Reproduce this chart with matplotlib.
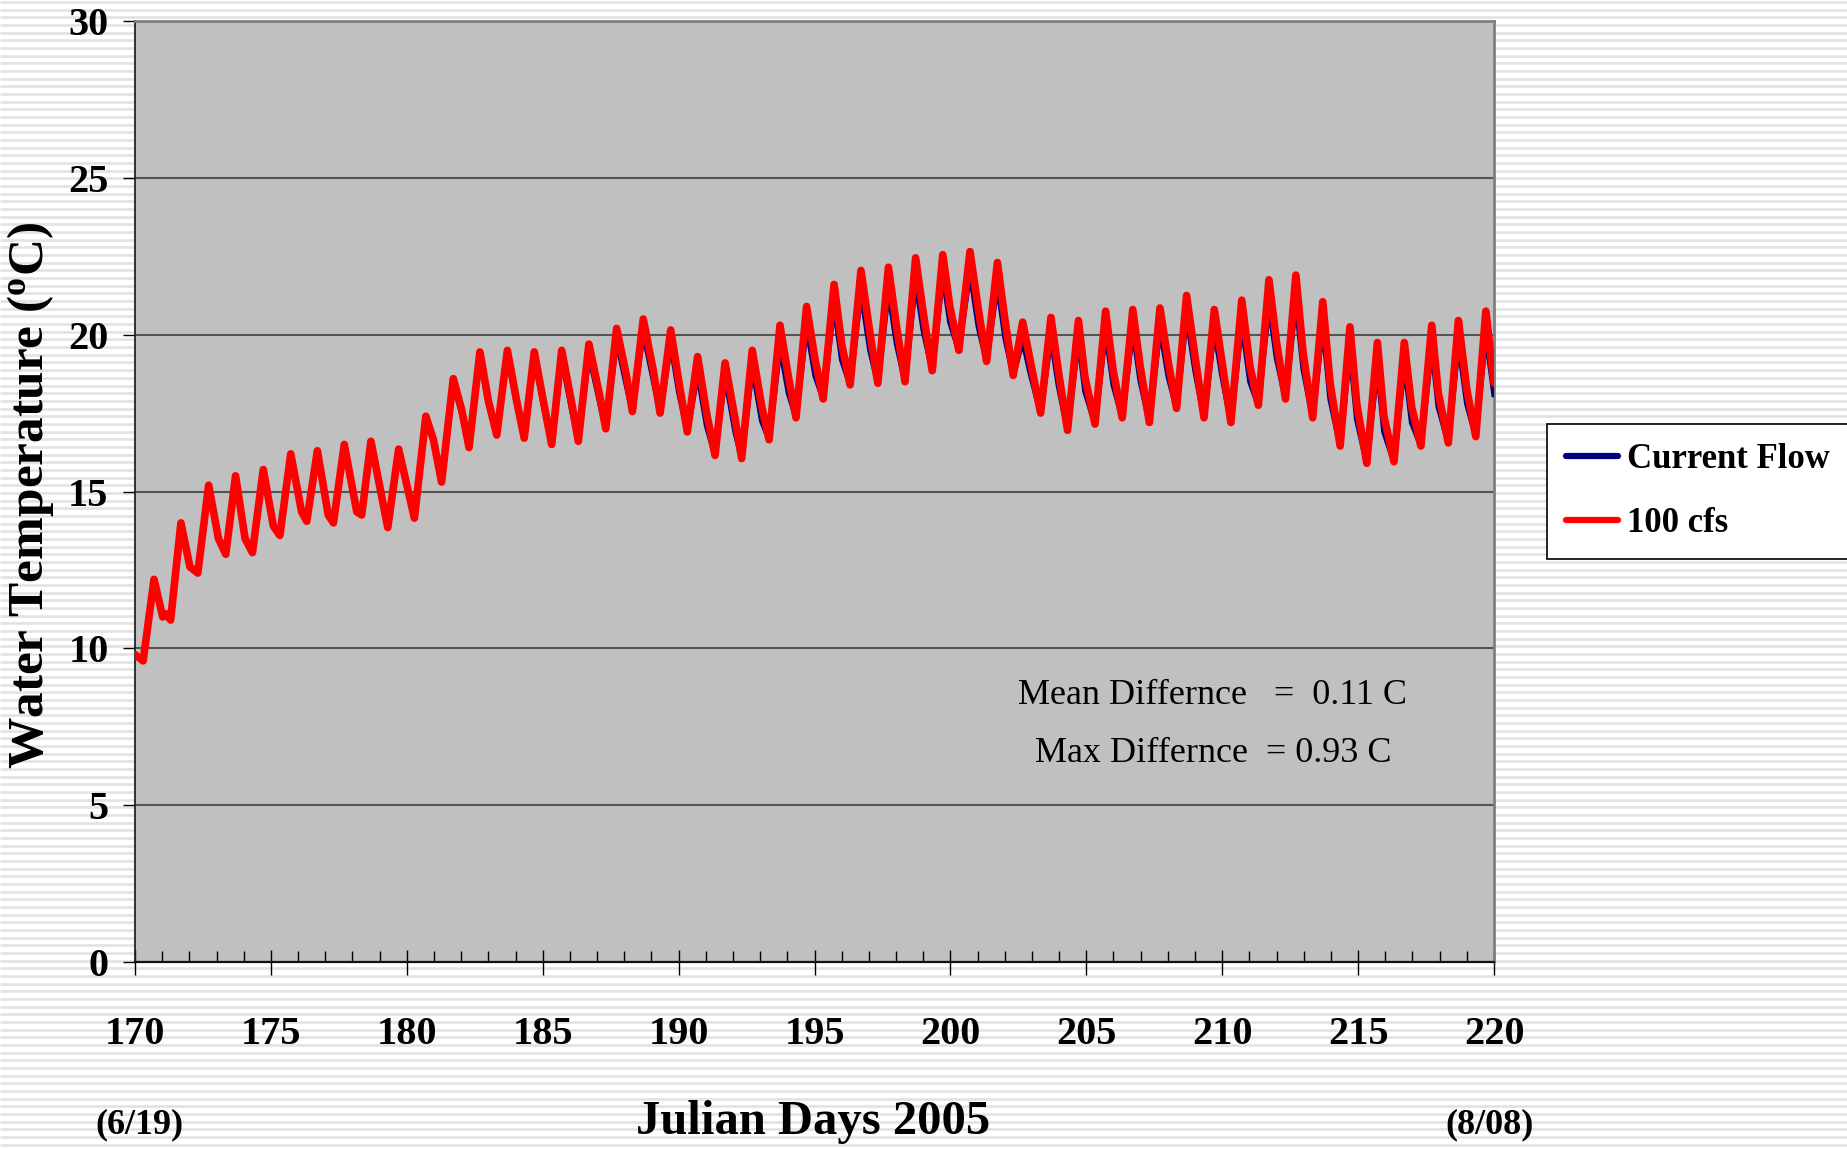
import numpy as np
import matplotlib
matplotlib.use("Agg")
import matplotlib.pyplot as plt
from matplotlib.lines import Line2D
from matplotlib.ticker import MultipleLocator

plt.rcParams["font.family"] = ["Liberation Serif", "DejaVu Serif"]
plt.rcParams["mathtext.fontset"] = "custom"
plt.rcParams["mathtext.rm"] = "Liberation Serif"
plt.rcParams["mathtext.bf"] = "Liberation Serif:bold"

# julian day of each turning point (shared by both series)
days = [170.00, 170.30, 170.70, 171.02, 171.14, 171.31, 171.69, 172.02, 172.31, 172.71,
        173.07, 173.34, 173.70, 174.05, 174.32, 174.72, 175.09, 175.33, 175.73, 176.13,
        176.32, 176.71, 177.11, 177.30, 177.70, 178.16, 178.34, 178.68, 179.30, 179.70,
        180.28, 180.70, 180.98, 181.28, 181.71, 182.02, 182.29, 182.69, 183.00, 183.31,
        183.70, 184.04, 184.32, 184.69, 185.02, 185.33, 185.70, 186.07, 186.31, 186.70,
        187.11, 187.32, 187.72, 188.09, 188.30, 188.70, 189.07, 189.32, 189.71, 190.00,
        190.32, 190.70, 191.03, 191.34, 191.71, 192.08, 192.32, 192.71, 193.06, 193.33,
        193.73, 194.04, 194.32, 194.71, 195.02, 195.32, 195.72, 196.00, 196.31, 196.71,
        197.04, 197.33, 197.72, 198.02, 198.33, 198.72, 199.00, 199.33, 199.72, 199.98,
        200.31, 200.72, 201.03, 201.33, 201.73, 202.01, 202.31, 202.66, 202.93, 203.32,
        203.70, 203.97, 204.31, 204.71, 204.95, 205.32, 205.71, 205.99, 206.32, 206.71,
        206.98, 207.32, 207.71, 208.02, 208.32, 208.69, 209.00, 209.33, 209.71, 209.98,
        210.32, 210.72, 211.02, 211.33, 211.72, 212.00, 212.33, 212.71, 212.98, 213.33,
        213.70, 213.97, 214.34, 214.70, 214.95, 215.32, 215.71, 215.95, 216.32, 216.70,
        216.97, 217.31, 217.71, 217.95, 218.32, 218.69, 219.00, 219.33, 219.70, 220.00]

# 100 cfs scenario
temp_100cfs = [9.8, 9.6, 12.2, 11.0, 11.1, 10.9, 14.0, 12.6, 12.4, 15.2,
               13.5, 13.0, 15.5, 13.5, 13.05, 15.7, 13.9, 13.6, 16.2, 14.35,
               14.05, 16.3, 14.25, 14.0, 16.5, 14.35, 14.25, 16.6, 13.85, 16.35,
               14.15, 17.4, 16.65, 15.3, 18.6, 17.6, 16.4, 19.45, 17.9, 16.8,
               19.5, 17.9, 16.7, 19.45, 17.9, 16.5, 19.5, 17.8, 16.6, 19.7,
               18.0, 17.0, 20.2, 18.65, 17.55, 20.5, 18.85, 17.5, 20.15, 18.55,
               16.9, 19.3, 17.5, 16.15, 19.1, 17.3, 16.05, 19.5, 17.7, 16.65,
               20.3, 18.65, 17.35, 20.9, 19.2, 17.95, 21.6, 19.7, 18.4, 22.05,
               20.05, 18.45, 22.15, 20.25, 18.5, 22.45, 20.7, 18.85, 22.55, 20.9,
               19.5, 22.65, 20.8, 19.15, 22.3, 20.45, 18.7, 20.4, 19.2, 17.5,
               20.55, 18.85, 16.95, 20.45, 18.65, 17.15, 20.75, 18.85, 17.35, 20.8,
               19.0, 17.2, 20.85, 19.1, 17.65, 21.25, 19.3, 17.35, 20.8, 19.2,
               17.2, 21.1, 19.0, 17.75, 21.75, 19.75, 17.95, 21.9, 19.4, 17.35,
               21.05, 18.45, 16.45, 20.25, 17.8, 15.9, 19.75, 17.4, 15.95, 19.75,
               17.7, 16.45, 20.3, 18.15, 16.55, 20.45, 18.25, 16.75, 20.75, 18.45]

# current flow
temp_current = [9.8, 9.6, 12.2, 11.0, 11.1, 10.9, 14.0, 12.6, 12.4, 15.15,
                13.5, 13.0, 15.45, 13.5, 13.05, 15.65, 13.9, 13.6, 16.15, 14.35,
                14.05, 16.25, 14.25, 14.0, 16.45, 14.35, 14.25, 16.55, 13.85, 16.3,
                14.15, 17.35, 16.6, 15.3, 18.45, 17.5, 16.4, 19.3, 17.8, 16.8,
                19.35, 17.8, 16.7, 19.25, 17.8, 16.5, 19.25, 17.6, 16.6, 19.4,
                17.8, 17.0, 19.85, 18.35, 17.55, 20.1, 18.55, 17.5, 19.75, 18.2,
                16.9, 18.8, 17.1, 16.15, 18.7, 16.9, 16.05, 19.0, 17.25, 16.65,
                19.65, 18.15, 17.35, 20.3, 18.7, 17.95, 21.0, 19.2, 18.4, 21.4,
                19.5, 18.45, 21.45, 19.7, 18.5, 21.75, 20.15, 18.85, 21.95, 20.4,
                19.5, 22.05, 20.25, 19.15, 21.65, 19.9, 18.7, 19.85, 18.8, 17.5,
                19.95, 18.4, 16.95, 19.9, 18.2, 17.15, 20.15, 18.4, 17.35, 20.2,
                18.55, 17.2, 20.25, 18.65, 17.65, 20.65, 18.85, 17.35, 20.2, 18.75,
                17.2, 20.4, 18.5, 17.75, 21.0, 19.25, 17.95, 21.15, 18.9, 17.35,
                20.35, 17.95, 16.45, 19.55, 17.3, 15.9, 19.05, 16.9, 15.95, 19.1,
                17.2, 16.45, 19.65, 17.7, 16.55, 19.8, 17.8, 16.75, 20.05, 18.1]

W, H = 1847, 1150
fig = plt.figure(figsize=(W / 100, H / 100), dpi=100)

# striped page background
bg = fig.add_axes([0, 0, 1, 1], zorder=-10)
bg.set_xlim(0, W)
bg.set_ylim(H, 0)
bg.hlines(np.arange(2, H, 7.67), 0, W, color="#e2e2e2", lw=1.9)
bg.axis("off")

ax = fig.add_axes([135 / W, 1 - 962 / H, (1494 - 135) / W, (962 - 21) / H])
ax.set_facecolor("#c0c0c0")

ax.plot(days, temp_current, color="#000080", lw=4.0, solid_joinstyle="round", zorder=3)
ax.plot(days, temp_100cfs, color="#ff0000", lw=5.5, solid_joinstyle="round",
        solid_capstyle="round", zorder=4)

ax.set_xlim(170, 220)
ax.set_ylim(0, 30)
ax.xaxis.set_major_locator(MultipleLocator(5))
ax.xaxis.set_minor_locator(MultipleLocator(1))
ax.yaxis.set_major_locator(MultipleLocator(5))
ax.grid(axis="y", color="#555555", lw=1.5)
ax.set_axisbelow(True)

for s in ["top", "right"]:
    ax.spines[s].set_color("#808080")
    ax.spines[s].set_linewidth(2)
ax.spines["left"].set_color("#222222")
ax.spines["bottom"].set_color("#111111")
ax.spines["left"].set_linewidth(1.3)
ax.spines["bottom"].set_linewidth(1.6)

ax.tick_params(axis="x", which="major", direction="inout", length=18, width=1.0,
               pad=30, labelsize=29)
ax.tick_params(axis="x", which="minor", direction="in", length=8, width=1.0)
ax.tick_params(axis="y", which="major", direction="out", length=9, width=1.0,
               pad=10, labelsize=29)
for lab in ax.get_xticklabels() + ax.get_yticklabels():
    lab.set_fontweight("bold")

fig.text(31 / W, 1 - 495 / H, r"Water Temperature ($\mathbf{^{o}}$C)", fontsize=37,
         fontweight="bold", rotation=90, ha="center", va="center")

fig.text(813 / W, 1 - 1122 / H, "Julian Days 2005", fontsize=35, fontweight="bold",
         ha="center", va="center")
fig.text(139 / W, 1 - 1125 / H, "(6/19)", fontsize=26, fontweight="bold",
         ha="center", va="center")
fig.text(1490 / W, 1 - 1125 / H, "(8/08)", fontsize=26, fontweight="bold",
         ha="center", va="center")

fig.text(1213 / W, 1 - 695 / H, "Mean Differnce   =  0.11 C", fontsize=26,
         ha="center", va="center")
fig.text(1213 / W, 1 - 754 / H, "Max Differnce  = 0.93 C", fontsize=26,
         ha="center", va="center")

handles = [Line2D([], [], color="#000080", lw=4.5, solid_capstyle="round"),
           Line2D([], [], color="#ff0000", lw=4.5, solid_capstyle="round")]
leg = fig.legend(handles, ["Current Flow", "100 cfs"], loc="upper left",
                 bbox_to_anchor=(1547 / W, 1 - 424 / H), fancybox=False,
                 framealpha=1, edgecolor="black", handlelength=1.5,
                 handletextpad=0.25, labelspacing=0.9, borderpad=0.55,
                 borderaxespad=0, prop={"size": 25, "weight": "bold"})
leg.get_frame().set_linewidth(1.2)

fig.savefig("out.png", dpi=100)
